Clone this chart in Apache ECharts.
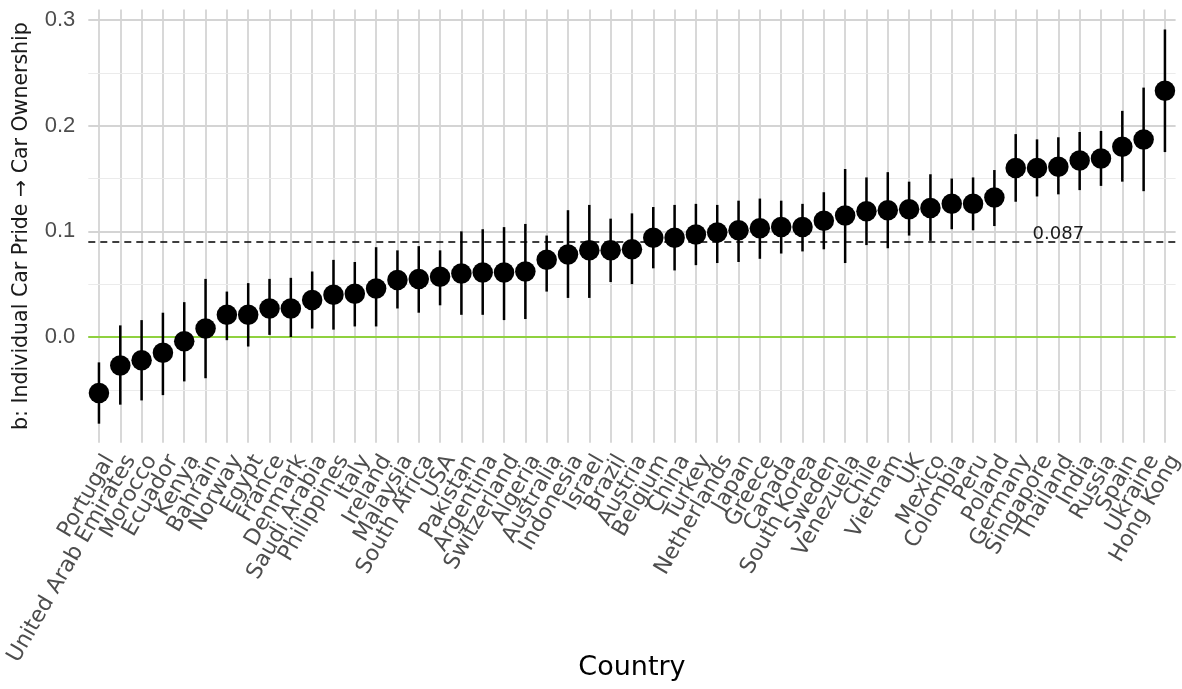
<!DOCTYPE html>
<html>
<head>
<meta charset="utf-8">
<script src="https://cdn.jsdelivr.net/npm/echarts@6/dist/echarts.min.js"></script>
<style>html,body{margin:0;padding:0;background:#fff;}#c{width:1182px;height:689px;}</style>
</head>
<body>
<div id="c"></div>
<script>
const countries = ["Portugal","United Arab Emirates","Morocco","Ecuador","Kenya","Bahrain","Norway","Egypt","France","Denmark","Saudi Arabia","Philippines","Italy","Ireland","Malaysia","South Africa","USA","Pakistan","Argentina","Switzerland","Algeria","Australia","Indonesia","Israel","Brazil","Austria","Belgium","China","Turkey","Netherlands","Japan","Greece","Canada","South Korea","Sweden","Venezuela","Chile","Vietnam","UK","Mexico","Colombia","Peru","Poland","Germany","Singapore","Thailand","India","Russia","Spain","Ukraine","Hong Kong"];
const estimates = [-0.053,-0.027,-0.022,-0.015,-0.004,0.008,0.021,0.021,0.027,0.027,0.035,0.040,0.041,0.046,0.054,0.055,0.057,0.060,0.061,0.061,0.062,0.073,0.078,0.082,0.082,0.083,0.094,0.094,0.097,0.099,0.101,0.103,0.104,0.104,0.110,0.115,0.119,0.120,0.121,0.122,0.126,0.126,0.132,0.160,0.160,0.161,0.167,0.169,0.180,0.187,0.233];
const upperCI = [-0.024,0.011,0.016,0.023,0.033,0.055,0.043,0.051,0.055,0.056,0.062,0.073,0.071,0.085,0.082,0.086,0.082,0.100,0.102,0.104,0.107,0.096,0.120,0.125,0.112,0.117,0.123,0.125,0.126,0.125,0.129,0.131,0.129,0.126,0.137,0.159,0.151,0.156,0.147,0.154,0.150,0.151,0.158,0.192,0.187,0.189,0.194,0.195,0.214,0.236,0.291];
const lowerCI = [-0.082,-0.064,-0.060,-0.055,-0.042,-0.039,-0.003,-0.009,0.002,0.000,0.008,0.007,0.010,0.010,0.027,0.023,0.030,0.021,0.021,0.016,0.017,0.043,0.037,0.037,0.052,0.050,0.065,0.063,0.068,0.070,0.071,0.074,0.079,0.081,0.083,0.070,0.087,0.084,0.096,0.091,0.102,0.101,0.105,0.128,0.133,0.135,0.139,0.143,0.147,0.138,0.175];
const meanEffect = 0.087;
const meanLabelAt = "Thailand";
const yTicks = [0.0, 0.1, 0.2, 0.3];
const minorBreaks = [-0.05, 0.05, 0.15, 0.25];
const yTitle = "b: Individual Car Pride \u2192 Car Ownership";
const xTitle = "Country";

const FONT = "'Liberation Sans', Arial, sans-serif";
const WIDE = "'DejaVu Sans', Verdana, sans-serif";
const chart = echarts.init(document.getElementById('c'), null, {renderer: 'canvas'});

const errData = countries.map((c, i) => [i, lowerCI[i], upperCI[i]]);
const ptData = countries.map((c, i) => [c, estimates[i]]);
const GRID = '#d4d4d4';

chart.setOption({
  animation: false,
  backgroundColor: '#ffffff',
  grid: {left: 88.3, right: 6.4, top: 9.4, bottom: 246.3, containLabel: false, outerBoundsMode: 'none'},
  xAxis: {
    type: 'category',
    data: countries,
    boundaryGap: true,
    axisLine: {show: false},
    axisTick: {show: false},
    splitLine: {show: false},
    axisLabel: {rotate: 60, fontSize: 22, color: '#4d4d4d', fontFamily: WIDE, margin: 8,
      interval: 0, align: 'right', verticalAlign: 'top', padding: [1, 0, 0, 0]},
    name: xTitle,
    nameLocation: 'middle',
    nameGap: 212,
    nameMoveOverlap: false,
    nameTextStyle: {fontSize: 27, color: '#000', fontFamily: WIDE}
  },
  yAxis: {
    type: 'value',
    min: -0.1,
    max: 0.31,
    interval: 0.1,
    axisLine: {show: false},
    axisTick: {show: false},
    axisLabel: {
      fontSize: 22, color: '#4d4d4d', fontFamily: FONT, margin: 13,
      showMinLabel: false, showMaxLabel: false,
      formatter: v => yTicks.some(t => Math.abs(t - v) < 1e-9) ? v.toFixed(1) : ''
    },
    splitLine: {show: true, showMinLine: false, showMaxLine: false, lineStyle: {color: GRID, width: 1.8}},
    name: yTitle,
    nameLocation: 'middle',
    nameGap: 56,
    nameMoveOverlap: false,
    nameTextStyle: {fontSize: 20.5, color: '#1a1a1a', fontFamily: WIDE}
  },
  series: [
    {
      type: 'line',
      data: [],
      z: 1,
      silent: true,
      markLine: {
        silent: true,
        z: 1,
        symbol: ['none', 'none'],
        label: {show: false},
        animation: false,
        data: countries.map(c => ({xAxis: c, lineStyle: {color: GRID, width: 1.8, type: 'solid'}}))
          .concat(minorBreaks.map(v => ({yAxis: v, lineStyle: {color: '#ebebeb', width: 1.2, type: 'solid'}})))
      }
    },
    {
      type: 'line',
      data: [],
      z: 2,
      silent: true,
      markLine: {
        silent: true,
        z: 2,
        symbol: ['none', 'none'],
        label: {show: false},
        animation: false,
        data: [
          {yAxis: 0, lineStyle: {color: '#8fd13f', width: 1.8, type: 'solid'}},
          {yAxis: meanEffect, lineStyle: {color: '#000', width: 1.6, type: [7, 5]}}
        ]
      },
      markPoint: {
        silent: true,
        z: 2,
        symbol: 'circle',
        symbolSize: 0,
        data: [{coord: [meanLabelAt, meanEffect], value: meanEffect}],
        label: {show: true, position: 'top', distance: 2, formatter: String(meanEffect), fontSize: 18, color: '#1a1a1a', fontFamily: WIDE}
      }
    },
    {
      type: 'custom',
      z: 6,
      silent: true,
      data: errData,
      encode: {x: 0, y: [1, 2]},
      renderItem: function (params, api) {
        const i = api.value(0);
        const lo = api.coord([i, api.value(1)]);
        const hi = api.coord([i, api.value(2)]);
        return {
          type: 'line',
          shape: {x1: lo[0], y1: lo[1], x2: hi[0], y2: hi[1]},
          style: {stroke: '#000', lineWidth: 2.5}
        };
      }
    },
    {
      type: 'scatter',
      z: 7,
      data: ptData,
      symbol: 'circle',
      symbolSize: 20.5,
      itemStyle: {color: '#000', opacity: 1}
    }
  ]
});
</script>
</body>
</html>
